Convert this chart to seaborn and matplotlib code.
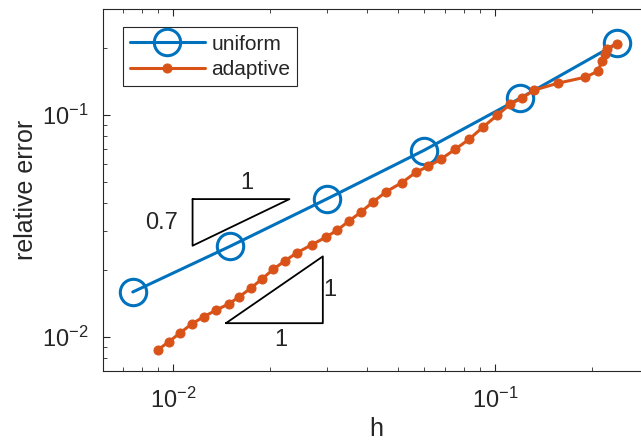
import numpy as np
import pandas as pd
import matplotlib
matplotlib.use('Agg')
import matplotlib.pyplot as plt
import seaborn as sns

# uniform refinement: h halves each step
h_uniform = [0.0075, 0.015, 0.03, 0.06, 0.12, 0.24]
err_uniform = [0.0159, 0.0255, 0.0417, 0.069, 0.119, 0.210]

# adaptive refinement
h_adaptive = [0.00896, 0.00972, 0.01054, 0.01143, 0.01248, 0.01363, 0.01489, 0.01607,
              0.01743, 0.01889, 0.02049, 0.02227, 0.02436, 0.02696, 0.02980, 0.03237,
              0.03521, 0.03836, 0.04188, 0.04603, 0.05131, 0.05696, 0.06193, 0.06784,
              0.07513, 0.08305, 0.09197, 0.1018, 0.1113, 0.1216, 0.1324, 0.1569,
              0.1910, 0.2089, 0.2149, 0.2196, 0.2227, 0.2393]
err_adaptive = [0.00871, 0.00950, 0.01042, 0.01141, 0.01231, 0.01319, 0.01404, 0.01514,
                0.01652, 0.01820, 0.02012, 0.02199, 0.02395, 0.02597, 0.02803, 0.03023,
                0.03320, 0.03645, 0.04057, 0.04510, 0.04940, 0.05519, 0.05854, 0.06302,
                0.06985, 0.07747, 0.08828, 0.0997, 0.1114, 0.1193, 0.1292, 0.1389,
                0.1478, 0.1573, 0.1745, 0.1877, 0.1987, 0.2093]

# slope triangles (reference rates 0.7 and 1)
tri1_x = [0.0115, 0.023, 0.0115, 0.0115]
tri1_y = [0.0417, 0.0417, 0.0257, 0.0417]
tri2_x = [0.0146, 0.0292, 0.0292, 0.0146]
tri2_y = [0.0115, 0.0115, 0.0230, 0.0115]

sns.set_style('ticks')
plt.rcParams['font.family'] = ['Liberation Sans', 'DejaVu Sans']
plt.rcParams['mathtext.fontset'] = 'custom'
plt.rcParams['mathtext.rm'] = 'Liberation Sans'

blue = '#0072BD'
orange = '#D95319'
dark = '#262626'

fig = plt.figure(figsize=(6.41, 4.41), dpi=100)
ax = fig.add_axes([0.1607, 0.1587, 0.851, 0.8209])

uni = pd.DataFrame({'h': h_uniform, 'err': err_uniform})
ada = pd.DataFrame({'h': h_adaptive, 'err': err_adaptive})

sns.lineplot(data=uni, x='h', y='err', ax=ax, color=blue, lw=2.2, marker='o',
             markersize=19, markerfacecolor='none', markeredgecolor=blue,
             markeredgewidth=2.2, estimator=None, sort=False, label='uniform')
sns.lineplot(data=ada, x='h', y='err', ax=ax, color=orange, lw=2.2, marker='o',
             markersize=6.5, markerfacecolor=orange, markeredgecolor=orange,
             estimator=None, sort=False, label='adaptive')

ax.plot(tri1_x, tri1_y, color='black', lw=1.3)
ax.plot(tri2_x, tri2_y, color='black', lw=1.3)
ax.text(0.01698, 0.0492, '1', fontsize=17, ha='center', va='center')
ax.text(0.00924, 0.0325, '0.7', fontsize=17, ha='center', va='center')
ax.text(0.0306, 0.01622, '1', fontsize=17, ha='center', va='center')
ax.text(0.02163, 0.00966, '1', fontsize=17, ha='center', va='center')

ax.set_xscale('log')
ax.set_yscale('log')
ax.set_xlim(0.00606, 0.3)
ax.set_ylim(0.0070, 0.30)

ax.set_xlabel('h', fontsize=18, color=dark, labelpad=3)
ax.set_ylabel('relative error', fontsize=18, color=dark, labelpad=3)
ax.tick_params(which='both', direction='in', top=True, right=True,
               labelsize=17, colors=dark)
ax.tick_params(axis='x', which='major', length=5, width=0.8, pad=12)
ax.tick_params(axis='y', which='major', length=5, width=0.8, pad=10.5)
ax.tick_params(which='minor', length=3, width=0.6)
for s in ax.spines.values():
    s.set_color(dark)
    s.set_linewidth(0.8)

leg = ax.legend(loc='upper left', bbox_to_anchor=(0.036, 0.949), borderaxespad=0,
                fancybox=False, framealpha=1, edgecolor=dark, fontsize=15,
                handlelength=3.6, borderpad=0.35, labelspacing=0.3, handletextpad=0.3)
leg.get_frame().set_linewidth(0.8)

fig.savefig('out.png', dpi=100)
